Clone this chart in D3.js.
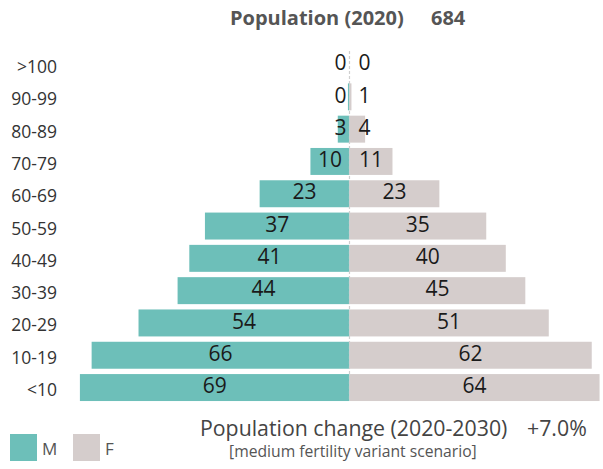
<!DOCTYPE html>
<html>
<head>
<meta charset="utf-8">
<script src="https://cdn.jsdelivr.net/npm/d3@7"></script>
<style>
  html, body { margin: 0; padding: 0; background: #fff; }
  svg { display: block; font-family: "Open Sans", "Noto Sans", sans-serif; }
</style>
</head>
<body>
<svg id="chart" width="603" height="469"></svg>
<script>
// ---- data (top to bottom) ----
const ageGroups = [">100", "90-99", "80-89", "70-79", "60-69", "50-59", "40-49", "30-39", "20-29", "10-19", "<10"];
const maleValues = [0, 0.4, 3, 10, 23, 37, 41, 44, 54, 66, 69];
const femaleValues = [0, 0.5, 4, 11, 23, 35, 40, 45, 51, 62, 64];
const titleText = "Population (2020)";
const totalPopulation = "684";
const changeText = "Population change (2020-2030)";
const changeValue = "+7.0%";
const scenarioText = "[medium fertility variant scenario]";
const legendLabels = ["M", "F"];

// ---- layout ----
const svg = d3.select("#chart");
const cx = 349.5;
const colorM = "#6dbfb9";
const colorF = "#d5cdcc";

const y = d3.scaleBand()
  .domain(ageGroups)
  .range([48.4, 403.7])
  .paddingInner(0.165)
  .paddingOuter(0.0825);

const xLen = d3.scaleLinear().domain([0, 70]).range([0, 273.5]);

const rows = ageGroups.map((a, i) => ({ age: a, m: maleValues[i], f: femaleValues[i] }));

// bars
svg.append("g").selectAll("rect").data(rows).join("rect")
  .attr("x", d => cx - xLen(d.m))
  .attr("y", d => y(d.age))
  .attr("width", d => xLen(d.m))
  .attr("height", y.bandwidth())
  .attr("fill", colorM);

svg.append("g").selectAll("rect").data(rows).join("rect")
  .attr("x", cx)
  .attr("y", d => y(d.age))
  .attr("width", d => xLen(d.f))
  .attr("height", y.bandwidth())
  .attr("fill", colorF);

// center dashed line
svg.append("line")
  .attr("x1", cx).attr("x2", cx)
  .attr("y1", y(ageGroups[0])).attr("y2", y(ageGroups[ageGroups.length - 1]) + y.bandwidth())
  .attr("stroke", "#cfcfcf")
  .attr("stroke-width", 1.2)
  .attr("stroke-dasharray", "3,2");

// age labels
svg.append("g").selectAll("text").data(rows).join("text")
  .attr("x", 57)
  .attr("y", d => y(d.age) + y.bandwidth() / 2 + 8.5)
  .attr("text-anchor", "end")
  .attr("font-size", 17.5)
  .attr("fill", "#333")
  .text(d => d.age);

// value labels
const fmt = v => String(Math.round(v));
const mLabels = svg.append("g").selectAll("text").data(rows).join("text")
  .attr("y", d => y(d.age) + y.bandwidth() / 2 + 5.7)
  .attr("text-anchor", "middle")
  .attr("font-size", 21)
  .attr("fill", "#1a1a1a")
  .text(d => fmt(d.m));
mLabels.each(function(d) {
  const w = this.getComputedTextLength();
  const barC = cx - xLen(d.m) / 2;
  d3.select(this).attr("x", Math.min(barC, cx - 3 - w / 2));
});

const fLabels = svg.append("g").selectAll("text").data(rows).join("text")
  .attr("y", d => y(d.age) + y.bandwidth() / 2 + 5.7)
  .attr("text-anchor", "middle")
  .attr("font-size", 21)
  .attr("fill", "#1a1a1a")
  .text(d => fmt(d.f));
fLabels.each(function(d) {
  const w = this.getComputedTextLength();
  const barC = cx + xLen(d.f) / 2;
  d3.select(this).attr("x", Math.max(barC, cx + 9 + w / 2));
});

// title
svg.append("text")
  .attr("x", 230).attr("y", 25)
  .attr("font-size", 20).attr("font-weight", 700)
  .attr("fill", "#555")
  .text(titleText);
svg.append("text")
  .attr("x", 431).attr("y", 25)
  .attr("font-size", 20).attr("font-weight", 700)
  .attr("fill", "#555")
  .text(totalPopulation);

// bottom texts
svg.append("text")
  .attr("x", 200).attr("y", 436)
  .attr("font-size", 21.3)
  .attr("fill", "#444")
  .text(changeText);
svg.append("text")
  .attr("x", 527).attr("y", 436)
  .attr("font-size", 21.3)
  .attr("fill", "#444")
  .text(changeValue);
svg.append("text")
  .attr("x", 229).attr("y", 457)
  .attr("font-size", 15.7)
  .attr("fill", "#555")
  .text(scenarioText);

// legend
const legend = [
  { label: legendLabels[0], color: colorM, x: 10 },
  { label: legendLabels[1], color: colorF, x: 73 }
];
const lg = svg.append("g").selectAll("g").data(legend).join("g");
lg.append("rect")
  .attr("x", d => d.x).attr("y", 434)
  .attr("width", 27).attr("height", 27)
  .attr("fill", d => d.color);
lg.append("text")
  .attr("x", d => d.x + 32).attr("y", 455)
  .attr("font-size", 17)
  .attr("fill", "#555")
  .text(d => d.label);
</script>
</body>
</html>
